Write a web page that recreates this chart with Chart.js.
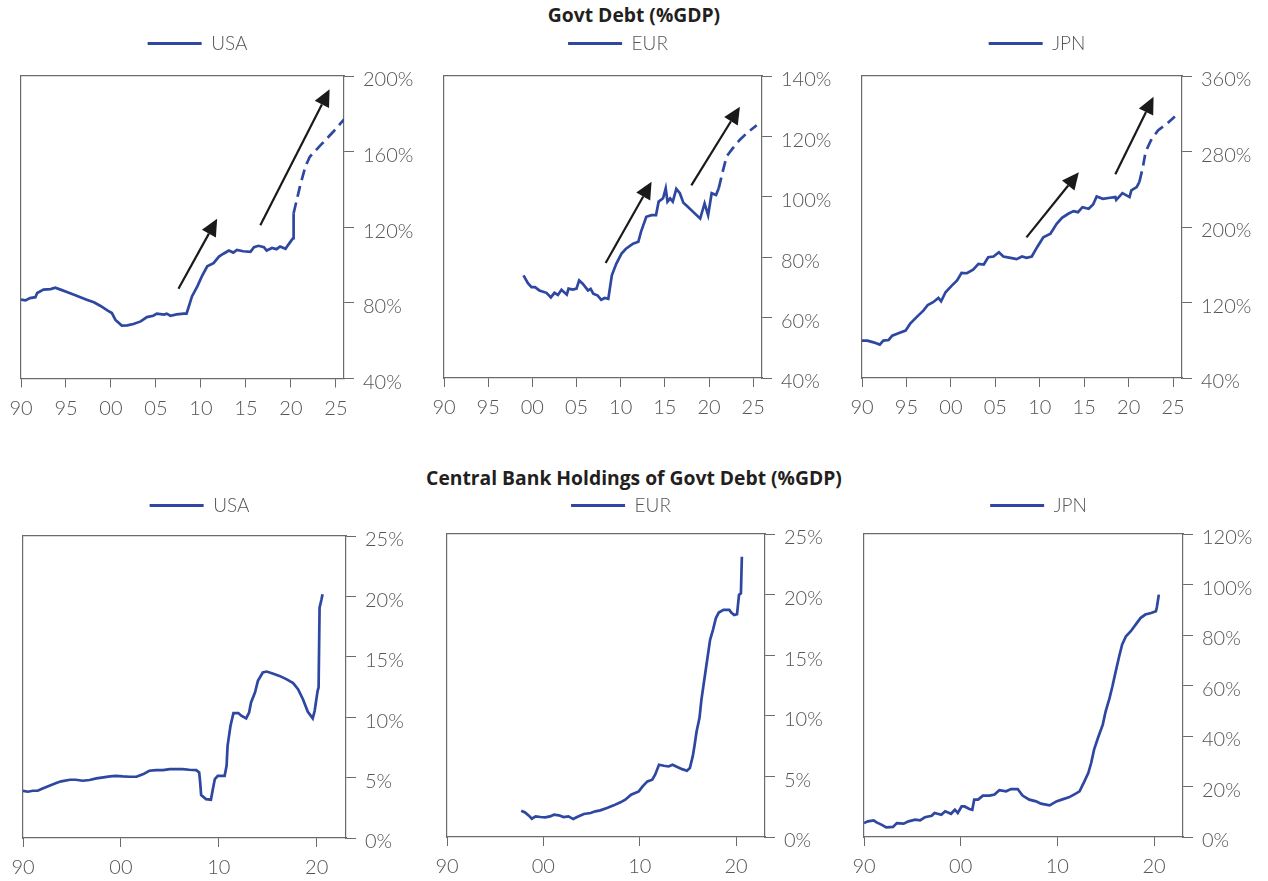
<!DOCTYPE html>
<html>
<head>
<meta charset="utf-8">
<script src="https://cdn.jsdelivr.net/npm/chart.js@4.4.1/dist/chart.umd.min.js"></script>
<style>
  body { margin: 0; background: #fff; width: 1268px; height: 881px; position: relative; overflow: hidden; font-family: Lato, sans-serif; }
  .title { position: absolute; left: 0; width: 1268px; text-align: center; font-family: "Open Sans", sans-serif; font-weight: 700; font-size: 19.3px; line-height: 20px; color: #231f20; }
  canvas { position: absolute; }
</style>
</head>
<body>
<div class="title" style="top:5px">Govt Debt (%GDP)</div>
<div class="title" style="top:468px">Central Bank Holdings of Govt Debt (%GDP)</div>

<canvas id="usDebt" width="448" height="420" style="left:-26px;top:24px"></canvas>
<canvas id="eurDebt" width="443" height="420" style="left:397px;top:24px"></canvas>
<canvas id="jpnDebt" width="445" height="420" style="left:815px;top:24px"></canvas>
<canvas id="usCb" width="448" height="395" style="left:-24px;top:486px"></canvas>
<canvas id="eurCb" width="443" height="395" style="left:400px;top:486px"></canvas>
<canvas id="jpnCb" width="444" height="395" style="left:817px;top:486px"></canvas>

<script>
// ---- Govt debt (%GDP), actual ----
const usDebtYears = [1990.0,1990.5,1991.0,1991.6,1991.8,1992.5,1993.3,1993.8,1994.4,1995.1,1995.9,1996.6,1997.3,1998.1,1998.8,1999.6,2000.1,2000.5,2001.2,2001.8,2002.5,2003.3,2004.0,2004.7,2005.1,2005.9,2006.2,2006.6,2007.3,2008.1,2008.4,2008.6,2009.0,2009.6,2010.1,2010.7,2011.4,2012.0,2012.5,2013.1,2013.6,2014.0,2014.7,2015.5,2015.9,2016.4,2017.0,2017.3,2017.9,2018.4,2018.8,2019.4,2019.7,2020.1,2020.25,2020.3];
const usDebtValues = [81.7,81.3,82.5,83,85.2,87,87.3,88,87,85.7,84.3,83,81.7,80.3,78.5,76,74.6,71,68,68.1,68.8,70.2,72.5,73.2,74.3,73.8,74.3,73.2,73.9,74.3,74.3,77.3,83.4,88.7,94,99.3,101,104.5,106,107.7,106.6,108,107.3,107,109.5,110.2,109.5,107.7,109,108.4,109.8,108.6,110.7,113.3,114.2,127.4];
const eurDebtYears = [1999.0,1999.5,1999.9,2000.3,2000.8,2001.6,2002.1,2002.5,2002.9,2003.3,2003.9,2004.1,2004.6,2005.0,2005.3,2005.7,2006.3,2006.6,2006.9,2007.4,2007.8,2008.2,2008.6,2009.0,2009.5,2010.1,2010.6,2011.4,2012.0,2012.3,2012.9,2013.5,2014.0,2014.3,2014.8,2015.1,2015.3,2015.6,2015.9,2016.3,2016.7,2017.1,2017.6,2018.2,2019.0,2019.5,2019.9,2020.3,2020.8,2021.1];
const eurDebtValues = [74.0,71.4,70.1,70.1,69,68.2,66.7,68.2,67.5,69.2,67.6,69.6,69.3,69.6,72.3,71.2,69,69.5,67.9,67.3,65.9,66.5,66.2,74,77.8,81.2,82.8,84.5,85.1,88.4,93.4,93.9,93.9,98.4,99.5,102.8,98.4,99.5,98.4,102.6,101.2,98,96.7,95,92.8,97.8,93.9,101.2,100.6,102.8];
const jpnDebtYears = [1990,1990.6,1991.3,1992.0,1992.4,1993.0,1993.4,1994.1,1994.9,1995.4,1996.2,1996.9,1997.4,1998.0,1998.6,1998.9,1999.4,2000.1,2000.7,2001.2,2001.8,2002.5,2003.1,2003.7,2004.2,2004.8,2005.4,2005.9,2006.7,2007.4,2008.0,2008.5,2009.1,2009.7,2010.4,2011.2,2011.9,2012.5,2013.2,2013.8,2014.3,2014.8,2015.5,2016.0,2016.4,2017.1,2017.9,2018.5,2018.6,2019.3,2020.1,2020.3,2020.9,2021.2];
const jpnDebtValues = [79.6,79.6,77.8,75.4,79.6,80.3,84.9,87.4,90.2,97.3,105,111.4,117.4,120.3,124.9,121.3,130.9,137.9,143.3,151.4,151,154.9,160.9,160.2,168,168.7,173.3,168.7,167.3,165.9,168.7,167.3,168.7,178.6,189.2,192.8,203.4,209.7,214,216.8,215.7,221,219.3,223.9,232.4,229.9,231,231.7,228.8,235.9,231.7,238.7,242.3,247.6];

// ---- Govt debt (%GDP), projection (dashed) ----
const usDebtFcYears = [2020.3,2021.0,2021.6,2022.1,2023.3,2024.7,2025.9];
const usDebtFcValues = [127.4,141.5,152,157.3,163.4,170.5,177];
const eurDebtFcYears = [2021.1,2021.6,2022.0,2022.7,2023.5,2024.4,2025.4];
const eurDebtFcValues = [102.8,108.9,113.4,116.1,118.9,121.4,123.7];
const jpnDebtFcYears = [2021.2,2021.6,2021.9,2022.5,2023.3,2024.3,2025.2];
const jpnDebtFcValues = [247.6,263.5,279.4,291.8,302.4,309.4,317.2];

// ---- Central bank holdings of govt debt (%GDP) ----
const usCbYears = [1990,1990.5,1991.0,1991.5,1992.0,1992.7,1993.4,1993.9,1994.8,1995.4,1996.1,1996.8,1997.5,1998.2,1998.9,1999.5,2000.2,2000.9,2001.6,2002.3,2002.9,2003.6,2004.3,2005.0,2005.7,2006.3,2007.0,2007.7,2008.0,2008.1,2008.2,2008.7,2009.2,2009.4,2009.6,2009.9,2010.6,2010.8,2010.9,2011.2,2011.5,2012.0,2012.3,2012.8,2013.1,2013.3,2013.7,2014.0,2014.5,2014.9,2015.5,2016.2,2016.9,2017.6,2018.1,2018.6,2019.1,2019.6,2019.8,2020.1,2020.2,2020.3,2020.5,2020.6];
const usCbValues = [3.91,3.83,3.91,3.91,4.1,4.33,4.55,4.69,4.82,4.82,4.74,4.8,4.93,5.02,5.1,5.15,5.1,5.07,5.07,5.29,5.57,5.62,5.62,5.7,5.7,5.7,5.65,5.62,5.43,4.6,3.56,3.22,3.17,4.05,4.88,5.15,5.15,5.98,7.63,9.29,10.34,10.34,10.12,9.9,10.39,11.22,12.04,13.01,13.7,13.78,13.62,13.42,13.15,12.82,12.32,11.49,10.45,9.9,10.53,12.18,12.46,19.07,19.76,20.18];
const eurCbYears = [1997.7,1998.1,1998.5,1998.8,1999.2,1999.7,2000.2,2000.7,2001.1,2001.6,2002.1,2002.6,2003.1,2003.5,2004.2,2004.9,2005.4,2005.9,2006.6,2007.3,2008.0,2008.5,2009.1,2009.9,2010.3,2010.8,2011.3,2011.6,2012.0,2012.5,2013.0,2013.4,2013.9,2014.4,2014.9,2015.2,2015.5,2015.7,2015.9,2016.2,2016.4,2016.7,2016.9,2017.1,2017.3,2017.6,2017.9,2018.2,2018.7,2019.3,2019.5,2019.8,2020.1,2020.3,2020.5,2020.6];
const eurCbValues = [2.17,2.03,1.76,1.51,1.7,1.65,1.62,1.7,1.84,1.79,1.65,1.7,1.48,1.65,1.9,1.98,2.12,2.2,2.39,2.61,2.86,3.08,3.49,3.76,4.18,4.59,4.73,5.14,5.96,5.88,5.82,5.96,5.77,5.6,5.47,5.69,6.65,7.61,8.71,9.81,11.32,12.97,14.07,15.16,16.26,17.09,18.05,18.52,18.74,18.74,18.52,18.32,18.38,19.97,20.1,23.13];
const jpnCbYears = [1990,1990.4,1991.0,1991.3,1991.8,1992.3,1993.0,1993.4,1994.1,1994.6,1995.3,1995.8,1996.3,1997.0,1997.3,1998.0,1998.4,1999.0,1999.4,1999.7,2000.1,2000.4,2000.9,2001.2,2001.4,2001.8,2002.3,2003.0,2003.5,2004.0,2004.7,2005.2,2005.9,2006.4,2007.1,2007.8,2008.3,2009.2,2009.9,2010.6,2011.2,2011.9,2012.3,2012.8,2013.2,2013.5,2013.8,2014.2,2014.7,2015.0,2015.4,2015.7,2016.0,2016.4,2016.7,2017.1,2017.6,2018.1,2018.6,2019.1,2019.7,2020.2,2020.3,2020.5];
const jpnCbValues = [5.5,6.2,6.6,5.8,4.9,3.8,4.0,5.5,5.3,6.2,6.9,6.6,7.8,8.4,9.5,8.8,10.2,9.2,10.8,9.5,12.1,12.1,11.1,10.8,14.8,14.8,16.4,16.4,16.8,18.5,18.1,19.0,19.0,16.4,14.8,14.1,13.2,12.5,14.1,15.0,15.7,17.2,18.1,22.0,25.3,29.3,34.6,39.2,44.5,49.8,55.0,59.7,64.9,71.6,76.2,79.5,81.5,84.1,86.7,88.1,88.7,89.4,91.1,96.0];

// ---- axis ticks ----
const debtYearTicks = [1990,1995,2000,2005,2010,2015,2020,2025];
const cbYearTicks = [1990,2000,2010,2020];
const usDebtTicks = [40,80,120,160,200];
const eurDebtTicks = [40,60,80,100,120,140];
const jpnDebtTicks = [40,120,200,280,360];
const cbTicks25 = [0,5,10,15,20,25];
const jpnCbTicks = [0,20,40,60,80,100,120];

// ---- arrows [fromYear, fromValue, toYear, toValue] ----
const usArrows = [[2007.5,87.5,2011.8,124.5],[2016.6,121,2024.3,193]];
const eurArrows = [[2008.3,78.1,2013.5,105],[2018.0,103.8,2023.5,129.8]];
const jpnArrows = [[2008.5,189,2014.4,258],[2018.5,256,2022.8,338]];

const BLUE = '#2e47a0';
const AXIS = '#6b6b6b';
const TEXT = '#555555';

Chart.defaults.font.family = 'Lato, sans-serif';
Chart.defaults.font.weight = '300';
Chart.defaults.color = TEXT;

const pts = (xs, ys) => xs.map((x, i) => ({ x, y: ys[i] }));

function arrowPlugin(list) {
  return {
    id: 'arrows',
    afterDatasetsDraw(chart) {
      const { ctx, scales: { x, y } } = chart;
      list.forEach(([x1, y1, x2, y2]) => {
        const ax = x.getPixelForValue(x1), ay = y.getPixelForValue(y1);
        const bx = x.getPixelForValue(x2), by = y.getPixelForValue(y2);
        const ang = Math.atan2(by - ay, bx - ax);
        const head = 17, half = 8;
        const hx = bx - head * Math.cos(ang), hy = by - head * Math.sin(ang);
        ctx.save();
        ctx.strokeStyle = '#1a1a1a';
        ctx.fillStyle = '#1a1a1a';
        ctx.lineWidth = 2.2;
        ctx.beginPath();
        ctx.moveTo(ax, ay);
        ctx.lineTo(hx, hy);
        ctx.stroke();
        ctx.beginPath();
        ctx.moveTo(bx, by);
        ctx.lineTo(hx + half * Math.sin(ang), hy - half * Math.cos(ang));
        ctx.lineTo(hx - half * Math.sin(ang), hy + half * Math.cos(ang));
        ctx.closePath();
        ctx.fill();
        ctx.restore();
      });
    }
  };
}

// right axis box is 75 wide, the empty left axis box 45 wide: this puts the legend
// 15px right of the plot centre, as in the original
const RIGHT_AXIS_W = 75;
const LEFT_AXIS_W = 45;

function makePanel(id, p) {
  const datasets = [{
    label: p.name,
    data: pts(p.xs, p.ys),
    borderColor: BLUE,
    borderWidth: 2.7,
    pointRadius: 0,
    tension: 0
  }];
  if (p.fcX) {
    datasets.push({
      label: p.name + ' proj',
      data: pts(p.fcX, p.fcY),
      borderColor: BLUE,
      borderWidth: 2.7,
      borderDash: [11, 6],
      pointRadius: 0,
      tension: 0
    });
  }
  const tickGrid = { display: true, drawOnChartArea: false, drawTicks: true, tickLength: 10, tickColor: AXIS, color: AXIS };
  const border = { display: true, color: AXIS, width: 1.2 };

  new Chart(document.getElementById(id), {
    type: 'line',
    data: { datasets },
    plugins: [arrowPlugin(p.arrows || [])],
    options: {
      responsive: false,
      animation: false,
      layout: { padding: { left: 2, right: 3, top: 0, bottom: 0 } },
      plugins: {
        tooltip: { enabled: false },
        legend: {
          position: 'top',
          labels: {
            boxWidth: 54,
            boxHeight: 3,
            padding: 10,
            color: TEXT,
            font: { size: 19, weight: '300' },
            generateLabels: () => [{ text: p.name, fillStyle: BLUE, strokeStyle: BLUE, lineWidth: 0, hidden: false, datasetIndex: 0, fontColor: TEXT }]
          }
        }
      },
      scales: {
        x: {
          type: 'linear', position: 'bottom', min: p.xMin, max: p.xMax,
          afterBuildTicks: a => { a.ticks = p.xTicks.map(v => ({ value: v })); },
          afterFit: a => { a.height = p.xAxisH; },
          grid: { ...tickGrid, tickLength: 9 },
          border,
          ticks: { padding: 9, maxRotation: 0, autoSkip: false, font: { size: 20 }, color: TEXT,
            callback: v => String(Math.round(v) % 100).padStart(2, '0') }
        },
        xT: {
          type: 'linear', position: 'top', min: p.xMin, max: p.xMax,
          ticks: { display: false }, grid: { display: false }, border,
          afterFit: a => { a.height = p.gap; }
        },
        y: {
          type: 'linear', position: 'right', min: p.yTicks[0], max: p.yTicks[p.yTicks.length - 1],
          afterBuildTicks: a => { a.ticks = p.yTicks.map(v => ({ value: v })); },
          afterFit: a => { a.width = RIGHT_AXIS_W; },
          grid: tickGrid,
          border,
          ticks: { padding: 9, labelOffset: 4, autoSkip: false, font: { size: 20 }, color: TEXT, callback: v => v + '%' }
        },
        yL: {
          type: 'linear', position: 'left',
          ticks: { display: false }, grid: { display: false }, border,
          afterFit: a => { a.width = LEFT_AXIS_W; }
        }
      }
    }
  });
}

makePanel('usDebt', { name: 'USA', xs: usDebtYears, ys: usDebtValues, fcX: usDebtFcYears, fcY: usDebtFcValues,
  xMin: 1990, xMax: 2025.9, xTicks: debtYearTicks, yTicks: usDebtTicks, arrows: usArrows, xAxisH: 65.5, gap: 13 });
makePanel('eurDebt', { name: 'EUR', xs: eurDebtYears, ys: eurDebtValues, fcX: eurDebtFcYears, fcY: eurDebtFcValues,
  xMin: 1990, xMax: 2026, xTicks: debtYearTicks, yTicks: eurDebtTicks, arrows: eurArrows, xAxisH: 66, gap: 13 });
makePanel('jpnDebt', { name: 'JPN', xs: jpnDebtYears, ys: jpnDebtValues, fcX: jpnDebtFcYears, fcY: jpnDebtFcValues,
  xMin: 1990, xMax: 2026, xTicks: debtYearTicks, yTicks: jpnDebtTicks, arrows: jpnArrows, xAxisH: 66, gap: 13 });
makePanel('usCb', { name: 'USA', xs: usCbYears, ys: usCbValues,
  xMin: 1990, xMax: 2023, xTicks: cbYearTicks, yTicks: cbTicks25, xAxisH: 43, gap: 11 });
makePanel('eurCb', { name: 'EUR', xs: eurCbYears, ys: eurCbValues,
  xMin: 1990, xMax: 2023, xTicks: cbYearTicks, yTicks: cbTicks25, xAxisH: 44, gap: 9 });
makePanel('jpnCb', { name: 'JPN', xs: jpnCbYears, ys: jpnCbValues,
  xMin: 1990, xMax: 2023, xTicks: cbYearTicks, yTicks: jpnCbTicks, xAxisH: 44, gap: 9 });
</script>
</body>
</html>
